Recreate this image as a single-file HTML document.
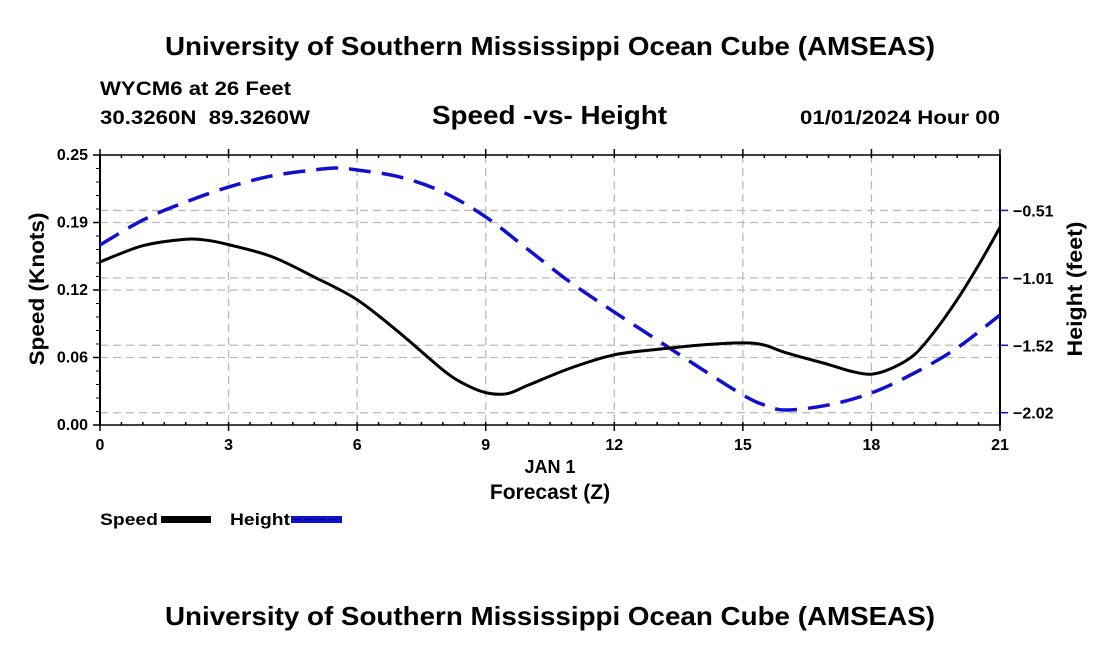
<!DOCTYPE html>
<html><head><meta charset="utf-8"><style>
body{margin:0;background:#fff;width:1100px;height:650px;overflow:hidden}
svg text{font-family:"Liberation Sans",Arial,sans-serif;font-weight:bold;fill:#000}
</style></head><body>
<svg id="chart" width="1100" height="650">
<text x="165" y="55" font-size="26" textLength="770" lengthAdjust="spacingAndGlyphs">University of Southern Mississippi Ocean Cube (AMSEAS)</text>
<text x="100" y="95" font-size="19" textLength="191" lengthAdjust="spacingAndGlyphs">WYCM6 at 26 Feet</text>
<text x="100" y="124" font-size="19" textLength="210" lengthAdjust="spacingAndGlyphs" xml:space="preserve">30.3260N  89.3260W</text>
<text x="432" y="124" font-size="26" textLength="235" lengthAdjust="spacingAndGlyphs">Speed -vs- Height</text>
<text x="800" y="124" font-size="19" textLength="200" lengthAdjust="spacingAndGlyphs">01/01/2024 Hour 00</text>
<g id="grid"></g>
<g id="axes"></g>
<g id="series"></g>
<text x="550" y="473" font-size="18" text-anchor="middle">JAN 1</text>
<text x="550" y="499" font-size="21" text-anchor="middle">Forecast (Z)</text>
<text transform="translate(44,289) rotate(-90)" font-size="21" text-anchor="middle" textLength="153" lengthAdjust="spacingAndGlyphs">Speed (Knots)</text>
<text transform="translate(1082,289) rotate(-90)" font-size="21" text-anchor="middle" textLength="135" lengthAdjust="spacingAndGlyphs">Height (feet)</text>
<g>
<text x="100" y="525" font-size="17" textLength="58" lengthAdjust="spacingAndGlyphs">Speed</text>
<rect x="161" y="516" width="50" height="7" fill="#000"></rect>
</g>
<g>
<text x="230" y="525" font-size="17" textLength="60" lengthAdjust="spacingAndGlyphs">Height</text>
<rect x="291" y="516" width="51" height="7" fill="#1010d0"></rect>
<line x1="293" y1="519.5" x2="342" y2="519.5" stroke="#000066" stroke-width="1" stroke-dasharray="8,4"></line>
</g>
<text x="165" y="625" font-size="26" textLength="770" lengthAdjust="spacingAndGlyphs">University of Southern Mississippi Ocean Cube (AMSEAS)</text>
</svg>
<script>
const hours=[0,1,2,2.5,3,4,5,6,7,8,8.5,9,9.5,10,11,12,13,14,15,15.5,16,17,17.5,18,18.5,19,19.5,20,20.5,21];
const speedValues=[0.151,0.166,0.172,0.171,0.167,0.156,0.137,0.116,0.085,0.051,0.038,0.030,0.029,0.037,0.053,0.065,0.070,0.074,0.076,0.074,0.067,0.056,0.050,0.047,0.053,0.065,0.088,0.116,0.148,0.183];
const heightHours=[0,1,2,3,4,5,5.5,6,7,8,9,10,11,12,13,14,15,15.5,16,17,18,19,20,21];
const heightValues=[-0.764,-0.577,-0.442,-0.330,-0.247,-0.202,-0.187,-0.202,-0.255,-0.367,-0.554,-0.801,-1.049,-1.266,-1.475,-1.685,-1.887,-1.962,-2.0,-1.962,-1.872,-1.723,-1.535,-1.288];
const xTicks=[0,3,6,9,12,15,18,21];
const speedTicks=[0,0.0625,0.125,0.1875,0.25];
const speedTickLabels=["0.00","0.06","0.12","0.19","0.25"];
const heightTicks=[-2.02,-1.515,-1.01,-0.505];
const heightTickLabels=["\u22122.02","\u22121.52","\u22121.01","\u22120.51"];

const L=100,R=1000,T=155,B=425;
const X=h=>L+(h-0)/21*(R-L);
const YS=v=>B-(v-0)/0.25*(B-T);
const HMIN=-2.112,HMAX=-0.090;
const YH=v=>B-(v-HMIN)/(HMAX-HMIN)*(B-T);
const NS="http://www.w3.org/2000/svg";
function mk(tag,attrs,parent){const e=document.createElementNS(NS,tag);for(const k in attrs)e.setAttribute(k,attrs[k]);parent.appendChild(e);return e;}
const grid=document.getElementById('grid'),axes=document.getElementById('axes'),series=document.getElementById('series');
const gs={stroke:"#bbb","stroke-width":1.3,"stroke-dasharray":"8,5"};
xTicks.forEach((t,i)=>{
  if(i>0&&i<xTicks.length-1){const g=mk('line',Object.assign({x1:X(t),x2:X(t),y1:T,y2:B},gs),grid);
  
  }
  mk('line',{x1:X(t),x2:X(t),y1:B,y2:B+6,stroke:"#000","stroke-width":1.5},axes);
  mk('line',{x1:X(t),x2:X(t),y1:T,y2:T-6,stroke:"#000","stroke-width":1.5},axes);
  const tx=mk('text',{x:X(t),y:B+25,"font-size":16,"text-anchor":"middle"},axes);tx.textContent=t;
  
  
});
speedTicks.forEach((t,i)=>{
  if(i>0&&i<speedTicks.length-1){const g=mk('line',Object.assign({x1:L,x2:R,y1:YS(t),y2:YS(t)},gs),grid);
  
  }
  mk('line',{x1:L-7,x2:L,y1:YS(t),y2:YS(t),stroke:"#000","stroke-width":1.5},axes);
  const tx=mk('text',{x:L-12,y:YS(t)+5,"font-size":16,"text-anchor":"end"},axes);tx.textContent=speedTickLabels[i];
  
  
});
for(let v=0;v<=0.25001;v+=0.0125){mk('line',{x1:L-4,x2:L,y1:YS(v),y2:YS(v),stroke:"#000","stroke-width":1},axes);}
heightTicks.forEach((t,i)=>{
  const g=mk('line',Object.assign({x1:L,x2:R,y1:YH(t),y2:YH(t)},gs),grid);
  
  
  mk('line',{x1:R,x2:R+8,y1:YH(t),y2:YH(t),stroke:"#1010c0","stroke-width":1.5},axes);
  const tx=mk('text',{x:R+13,y:YH(t)+6,"font-size":16},axes);tx.textContent=heightTickLabels[i];
  
  
});
for(let h=0;h<=21;h+=0.5){
  mk('line',{x1:X(h),x2:X(h),y1:T,y2:T+3,stroke:"#000","stroke-width":1.5},axes);
  mk('line',{x1:X(h),x2:X(h),y1:B,y2:B-3,stroke:"#000","stroke-width":1.5},axes);
}
mk('line',{x1:L,x2:R,y1:T,y2:T,stroke:"#000","stroke-width":1.5},axes);
mk('line',{x1:L,x2:R,y1:B,y2:B,stroke:"#000","stroke-width":1.5},axes);
mk('line',{x1:L,x2:L,y1:T,y2:B,stroke:"#000","stroke-width":2},axes);
mk('line',{x1:R,x2:R,y1:T,y2:B,stroke:"#000","stroke-width":2},axes);
function smooth(pts){let d="M"+pts[0][0]+","+pts[0][1];
  for(let i=0;i<pts.length-1;i++){const p0=pts[Math.max(0,i-1)],p1=pts[i],p2=pts[i+1],p3=pts[Math.min(pts.length-1,i+2)];
  d+=" C"+(p1[0]+(p2[0]-p0[0])/6)+","+(p1[1]+(p2[1]-p0[1])/6)+" "+(p2[0]-(p3[0]-p1[0])/6)+","+(p2[1]-(p3[1]-p1[1])/6)+" "+p2[0]+","+p2[1];}
  return d;}
const hp=mk('path',{d:smooth(heightHours.map((h,i)=>[X(h),YH(heightValues[i])])),fill:"none",stroke:"#1010d0","stroke-width":3.5,"stroke-dasharray":"22,11"},series);


const sp=mk('path',{d:smooth(hours.map((h,i)=>[X(h),YS(speedValues[i])])),fill:"none",stroke:"#000","stroke-width":3},series);


</script>
</body></html>
